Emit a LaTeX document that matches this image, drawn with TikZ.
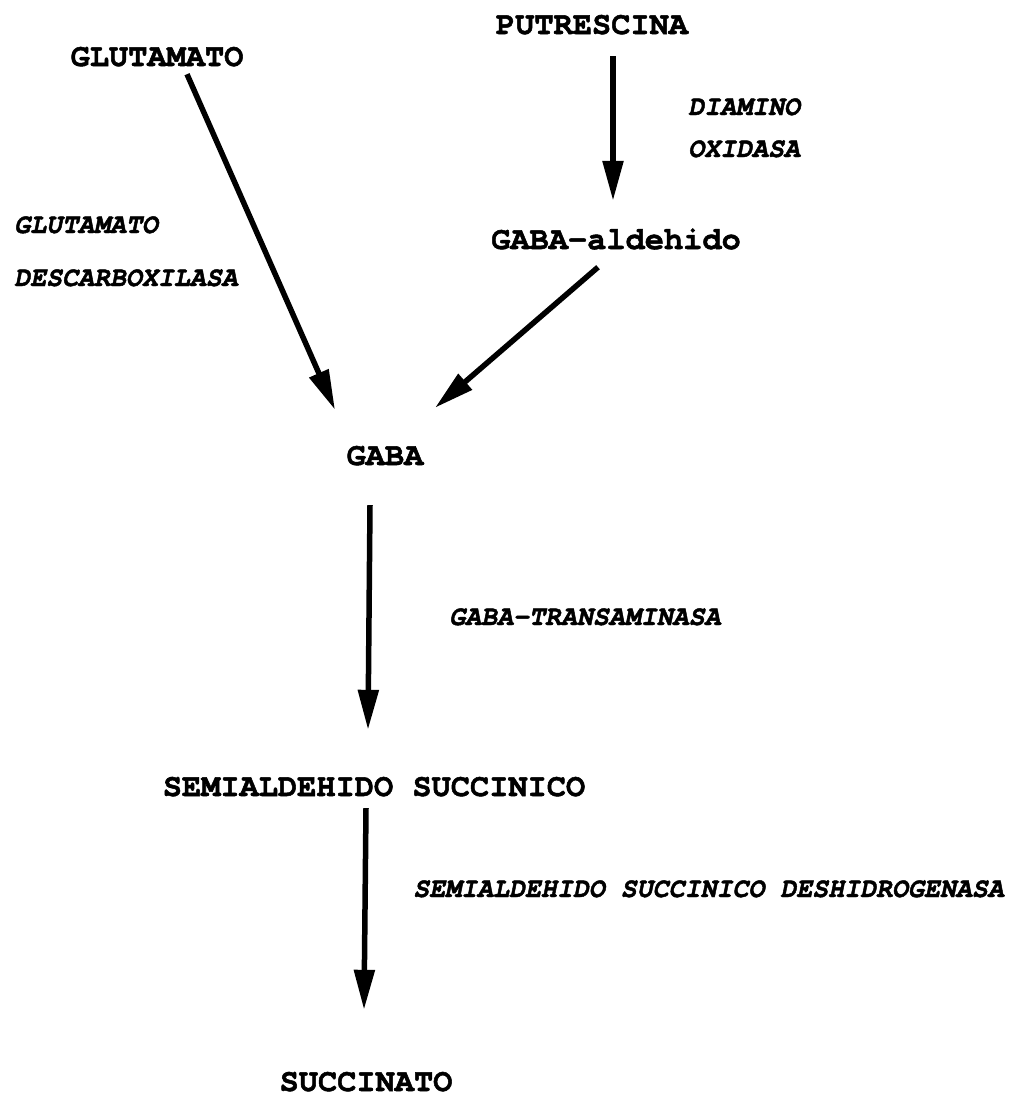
\documentclass[tikz,border=0pt]{standalone}
\usepackage{fontspec}
\usetikzlibrary{arrows.meta,calc}
\newfontfamily\monofam{texgyrecursor}[Extension=.otf, UprightFont=*-bold, FakeBold=1.6]
\newfontfamily\monoitfam{texgyrecursor}[Extension=.otf, UprightFont=*-bolditalic, FakeBold=1.6, FakeStretch=0.95]
\tikzset{
  metab/.style={font=\monofam\fontsize{32}{32}\selectfont, inner sep=0pt, text height=18pt, text depth=0pt},
  enz/.style={font=\monoitfam\fontsize{28}{28}\selectfont, inner sep=0pt, anchor=west, text height=16pt, text depth=0pt},
  arr/.style={line width=5.5pt, -{Triangle[length=40pt,width=20pt]}}
}
\begin{document}
\begin{tikzpicture}[x=1pt,y=-1pt]
\fill[white] (0,0) rectangle (1019,1096);
\useasboundingbox (0,0) rectangle (1019,1096);
% metabolites
\node[metab] (put)  at (592,25)  {PUTRESCINA};
\node[metab] (glu)  at (157,57)  {GLUTAMATO};
\node[metab] (gald) at (616,240) {GABA-aldehido};
\node[metab] (gaba) at (385,456) {GABA};
\node[metab] (semi) at (374,787) {SEMIALDEHIDO SUCCINICO};
\node[metab] (succ) at (366,1082) {SUCCINATO};
% enzymes
\node[enz] (e1a) at (688,107) {DIAMINO};
\node[enz] (e1b) at (688,149) {OXIDASA};
\node[enz] (e2a) at (14,225) {GLUTAMATO};
\node[enz] (e2b) at (14,278) {DESCARBOXILASA};
\node[enz] (e3)  at (449,617) {GABA-TRANSAMINASA};
\node[enz] (e4)  at (413,889) {SEMIALDEHIDO SUCCINICO DESHIDROGENASA};
% arrows
\draw[arr] ($(glu.south)+(30,8)$) -- ($(gaba.north)+(-50,-37)$);
\draw[arr] ($(put.south)+(21,22)$) -- ($(gald.north)+(-3,-30)$);
\draw[arr] ($(gald.south)+(-18,18)$) -- ($(gaba.north)+(50,-39)$);
\draw[arr] ($(gaba.south)+(-15,40)$) -- ($(semi.north)+(-6,-48)$);
\draw[arr] ($(semi.south)+(-8,12)$) -- ($(succ.north)+(-2,-63)$);
\end{tikzpicture}
\end{document}
